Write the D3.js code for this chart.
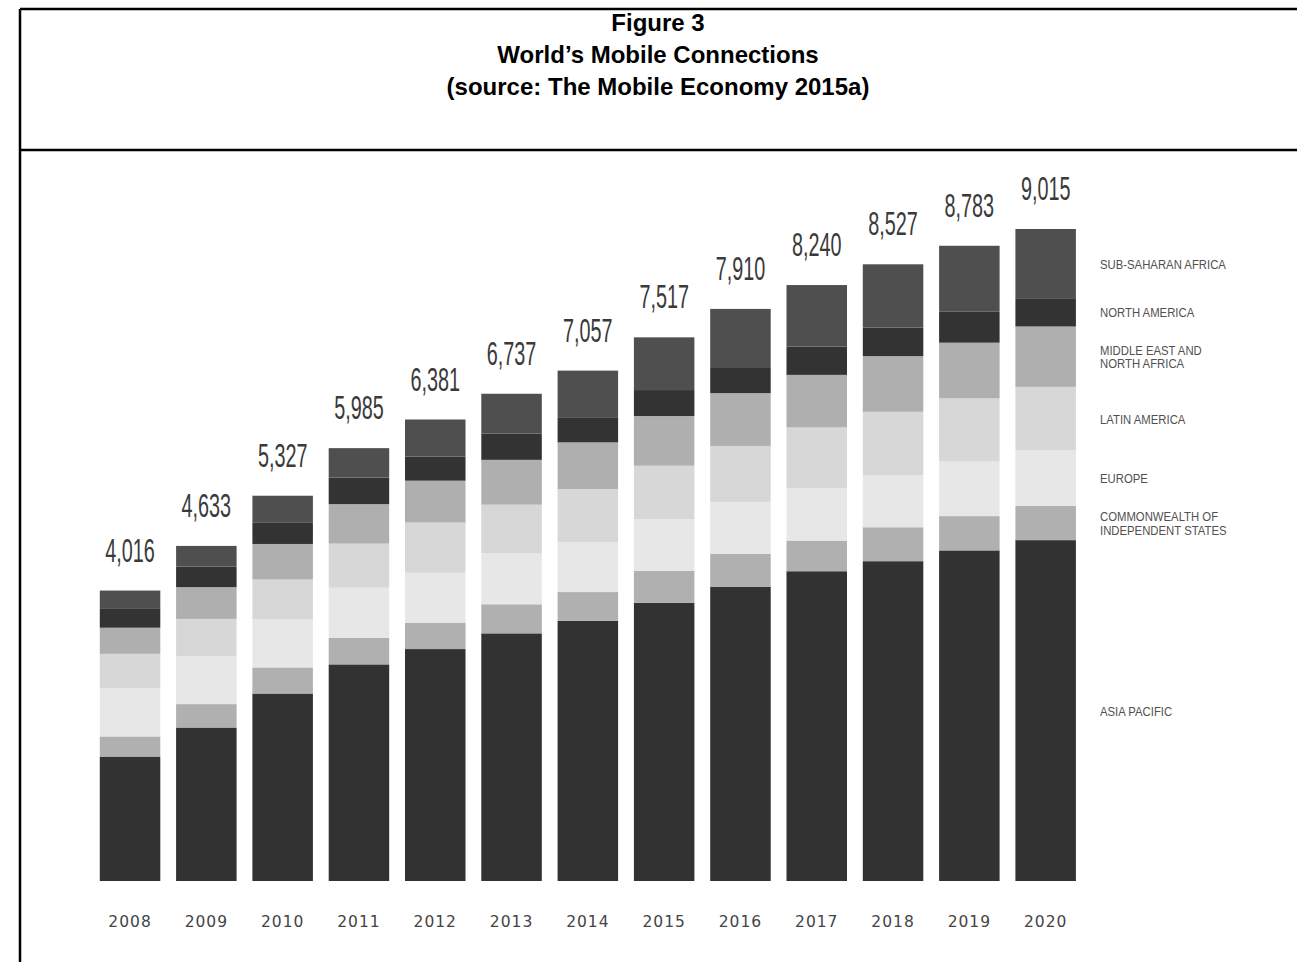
<!DOCTYPE html>
<html>
<head>
<meta charset="utf-8">
<script src="https://cdn.jsdelivr.net/npm/d3@7"></script>
<style>
  html, body { margin: 0; padding: 0; background: #ffffff; }
  svg { display: block; }
</style>
</head>
<body>
<svg id="chart" width="1297" height="962"></svg>
<script>
// Mobile connections by region (millions), stacked bottom to top
const years = ["2008","2009","2010","2011","2012","2013","2014","2015","2016","2017","2018","2019","2020"];
const totals = [4016, 4633, 5327, 5985, 6381, 6737, 7057, 7517, 7910, 8240, 8527, 8783, 9015];

const asiaPacific      = [1721, 2122, 2592, 2995, 3207, 3424, 3598, 3848, 4070, 4283, 4422, 4571, 4713];
const cis              = [278, 324, 361, 365, 365, 402, 397, 438, 455, 424, 469, 474, 474];
const europe           = [666, 658, 666, 694, 690, 703, 692, 719, 717, 722, 723, 755, 770];
const latinAmerica     = [476, 520, 550, 611, 694, 674, 733, 737, 773, 842, 874, 874, 875];
const middleEast       = [361, 439, 491, 546, 579, 620, 645, 687, 731, 727, 769, 769, 835];
const northAmerica     = [260, 284, 292, 367, 333, 365, 338, 359, 359, 391, 395, 428, 391];
const subSaharanAfrica = [254, 286, 375, 407, 513, 549, 654, 729, 805, 851, 875, 912, 957];

const seriesKeys = ["ap", "cis", "eu", "la", "mena", "na", "ssa"];
const seriesValues = [asiaPacific, cis, europe, latinAmerica, middleEast, northAmerica, subSaharanAfrica];
const seriesLabels = [
  ["ASIA PACIFIC"],
  ["COMMONWEALTH OF", "INDEPENDENT STATES"],
  ["EUROPE"],
  ["LATIN AMERICA"],
  ["MIDDLE EAST AND", "NORTH AFRICA"],
  ["NORTH AMERICA"],
  ["SUB-SAHARAN AFRICA"]
];
const seriesColors = ["#323232", "#b0b0b0", "#e7e7e7", "#d7d7d7", "#afafaf", "#333333", "#4f4f4f"];

const titleLines = ["Figure 3", "World\u2019s Mobile Connections", "(source: The Mobile Economy 2015a)"];

// Build a table for d3.stack
const table = years.map((yr, i) => {
  const row = { year: yr };
  seriesKeys.forEach((k, j) => { row[k] = seriesValues[j][i]; });
  return row;
});

const svg = d3.select("#chart");
const W = 1297, H = 962;

// Frame and title box
const frame = svg.append("g").attr("stroke", "#000").attr("stroke-width", 2.5);
frame.append("line").attr("x1", 20).attr("x2", W).attr("y1", 9).attr("y2", 9);
frame.append("line").attr("x1", 20).attr("x2", 20).attr("y1", 9).attr("y2", H);
frame.append("line").attr("x1", 20).attr("x2", W).attr("y1", 150).attr("y2", 150);

svg.append("g").selectAll("text")
  .data(titleLines)
  .join("text")
  .attr("x", 658)
  .attr("y", (d, i) => 31 + i * 32)
  .attr("text-anchor", "middle")
  .attr("font-family", "'Liberation Sans', Arial, sans-serif")
  .attr("font-weight", "bold")
  .attr("font-size", 24)
  .attr("fill", "#000")
  .text(d => d);

// Scales
const x = d3.scaleBand().domain(years).range([84, 1091.7]).padding(0.207);
const y = d3.scaleLinear().domain([0, d3.max(totals)]).range([881, 229]);

const stacked = d3.stack().keys(seriesKeys)(table);

// Stacked bars
const layers = svg.append("g").selectAll("g")
  .data(stacked)
  .join("g")
  .attr("fill", (d, i) => seriesColors[i]);

layers.selectAll("rect")
  .data(d => d)
  .join("rect")
  .attr("x", d => x(d.data.year))
  .attr("width", x.bandwidth())
  .attr("y", d => y(d[1]))
  .attr("height", d => y(d[0]) - y(d[1]));

// Totals above bars, in a tall condensed face
svg.append("g").selectAll("text")
  .data(years)
  .join("text")
  .attr("transform", (d, i) => `translate(${x(d) + x.bandwidth() / 2},${y(totals[i]) - 29}) scale(0.6,1)`)
  .attr("text-anchor", "middle")
  .attr("font-family", "'Liberation Sans Narrow', 'Liberation Sans', sans-serif")
  .attr("font-size", 33)
  .attr("fill", "#3a3a3a")
  .text((d, i) => d3.format(",")(totals[i]));

// Year axis
const xAxis = svg.append("g")
  .attr("transform", "translate(0,881)")
  .call(d3.axisBottom(x).tickSize(0).tickPadding(35));
xAxis.select(".domain").remove();
xAxis.selectAll("text")
  .attr("font-family", "'DejaVu Sans', sans-serif")
  .attr("font-size", 15.5)
  .attr("letter-spacing", 1)
  .attr("fill", "#444");

// Series labels, centred on the last bar's segments
const last = years.length - 1;
const legendX = 1100;
const legendScale = 0.84;
const legend = svg.append("g")
  .attr("transform", `translate(${legendX},0) scale(${legendScale},1)`)
  .attr("font-family", "'Liberation Sans Narrow', 'Liberation Sans', sans-serif")
  .attr("font-size", 13.5)
  .attr("fill", "#505050");

stacked.forEach((layer, i) => {
  const seg = layer[last];
  const cy = (y(seg[0]) + y(seg[1])) / 2;
  const lines = seriesLabels[i];
  const lh = 13.5;
  const t = legend.append("text").attr("x", 0);
  lines.forEach((ln, j) => {
    t.append("tspan")
      .attr("x", 0)
      .attr("y", cy + 5 + (j - (lines.length - 1) / 2) * lh)
      .text(ln);
  });
});
</script>
</body>
</html>
